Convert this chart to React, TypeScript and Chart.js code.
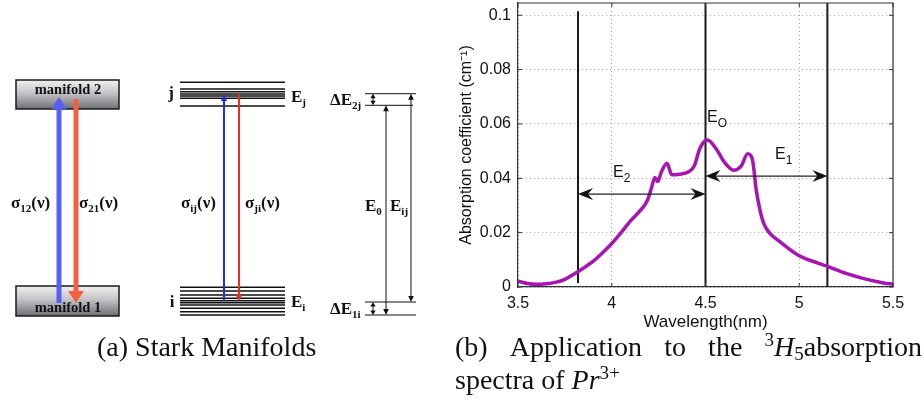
import React, { useEffect, useRef } from "react";
import { Chart, registerables } from "chart.js";

Chart.register(...registerables);

// ---------- Panel (b): absorption spectrum ----------
const wavelengthNm = [
  3.5, 3.55, 3.6, 3.65, 3.7, 3.75, 3.8, 3.85, 3.9, 3.95,
  4.0, 4.05, 4.1, 4.15, 4.19, 4.21, 4.23, 4.245, 4.265, 4.295,
  4.32, 4.36, 4.41, 4.44, 4.47, 4.51, 4.56, 4.6, 4.65, 4.69,
  4.725, 4.75, 4.77, 4.79, 4.81, 4.84, 4.9, 5.0, 5.1, 5.15,
  5.25, 5.35, 5.45, 5.5,
];
const absorptionCoeff = [
  0.0021, 0.0013, 0.001, 0.0012, 0.0017, 0.0028, 0.0048, 0.007, 0.0094, 0.0125,
  0.016, 0.02, 0.0243, 0.028, 0.0318, 0.036, 0.0403, 0.0388, 0.0424, 0.0455,
  0.0413, 0.0415, 0.0424, 0.0445, 0.051, 0.0541, 0.0505, 0.046, 0.043, 0.0445,
  0.049, 0.047, 0.036, 0.0285, 0.0235, 0.02, 0.0165, 0.0115, 0.0088, 0.0076,
  0.005, 0.003, 0.0015, 0.001,
];
const xTickValues = [3.5, 4, 4.5, 5, 5.5];
const yTickValues = [0, 0.02, 0.04, 0.06, 0.08, 0.1];
const boundaryWavelengths = [3.82, 4.5, 5.15];
const boundaryLow = [0.0015, 0, 0];
const boundaryHigh = [0.1015, 0.1045, 0.1045];
const spanStart = [3.82, 4.5];
const spanEnd = [4.5, 5.15];
const spanLevel = [0.0342, 0.0408];
const spanNames = ["2", "1"];

// ---------- Panel (a): Stark manifolds (energy in arbitrary units) ----------
const manifoldLabels = ["manifold 2", "manifold 1"];
const manifoldTop = [260, 54];
const manifoldBottom = [231, 24];
const upperStarkLevels = [257.7, 251, 248.3, 246, 244, 241.7, 234];
const lowerStarkLevels = [52.7, 49, 45, 41.7, 39.3, 37.3, 35, 31.7, 28.3, 25];
const referenceLevels = [246.3, 234.7, 38, 25];

const SERIF = '"Liberation Serif", "Times New Roman", serif';
const SANS = '"Liberation Sans", Arial, sans-serif';

type Part = { t: string; sub?: boolean };

function drawParts(
  ctx: CanvasRenderingContext2D,
  x: number,
  y: number,
  parts: Part[],
  size: number,
  align: "left" | "center",
  family: string,
  bold: boolean,
  subScale = 0.65,
  subDrop = 0.22
) {
  const w8 = bold ? "bold " : "";
  const main = `${w8}${size}px ${family}`;
  const small = `${w8}${Math.round(size * subScale)}px ${family}`;
  let w = 0;
  for (const p of parts) {
    ctx.font = p.sub ? small : main;
    w += ctx.measureText(p.t).width;
  }
  let cx = align === "center" ? x - w / 2 : x;
  ctx.textAlign = "left";
  ctx.textBaseline = "alphabetic";
  for (const p of parts) {
    ctx.font = p.sub ? small : main;
    ctx.fillText(p.t, cx, p.sub ? y + size * subDrop : y);
    cx += ctx.measureText(p.t).width;
  }
}

function head(
  ctx: CanvasRenderingContext2D,
  tx: number,
  ty: number,
  angle: number,
  len: number,
  half: number,
  color: string,
  notch = 0
) {
  const c = Math.cos(angle);
  const s = Math.sin(angle);
  const bx = tx - c * len;
  const by = ty - s * len;
  ctx.beginPath();
  ctx.moveTo(tx, ty);
  ctx.lineTo(bx - s * half, by + c * half);
  ctx.lineTo(tx - c * (len - notch), ty - s * (len - notch));
  ctx.lineTo(bx + s * half, by - c * half);
  ctx.closePath();
  ctx.fillStyle = color;
  ctx.fill();
}

function vArrow(
  ctx: CanvasRenderingContext2D,
  x: number,
  yFrom: number,
  yTo: number,
  color: string,
  width: number,
  len: number,
  half: number,
  both = false
) {
  const dir = yTo > yFrom ? 1 : -1;
  ctx.strokeStyle = color;
  ctx.lineWidth = width;
  ctx.beginPath();
  ctx.moveTo(x, both ? yFrom + dir * (len - 1) : yFrom);
  ctx.lineTo(x, yTo - dir * (len - 1));
  ctx.stroke();
  head(ctx, x, yTo, dir > 0 ? Math.PI / 2 : -Math.PI / 2, len, half, color);
  if (both) head(ctx, x, yFrom, dir > 0 ? -Math.PI / 2 : Math.PI / 2, len, half, color);
}

const diagramPlugin = {
  id: "diagram",
  afterDatasetsDraw(chart: any) {
    const ctx: CanvasRenderingContext2D = chart.ctx;
    const xs = chart.scales.x;
    const ys = chart.scales.y;
    const px = (v: number) => xs.getPixelForValue(v);
    const py = (v: number) => ys.getPixelForValue(v);
    ctx.save();

    // manifold boxes
    manifoldLabels.forEach((label, i) => {
      const x0 = px(16), x1 = px(119);
      const y0 = py(manifoldTop[i]), y1 = py(manifoldBottom[i]);
      const g = ctx.createLinearGradient(0, y0, 0, y1);
      g.addColorStop(0, "#f0f0f0");
      g.addColorStop(0.45, "#c4c4c8");
      g.addColorStop(1, "#6e6e74");
      ctx.fillStyle = g;
      ctx.fillRect(x0, y0, x1 - x0, y1 - y0);
      ctx.strokeStyle = "#1a1a1a";
      ctx.lineWidth = 1.5;
      ctx.strokeRect(x0, y0, x1 - x0, y1 - y0);
    });

    // thick arrows
    const blue = "#5760f2";
    const red = "#f2603f";
    vArrow(ctx, px(59), py(37), py(243), blue, 5, 12, 7.5);
    vArrow(ctx, px(76), py(241), py(37), red, 5, 12, 8);

    // manifold text (over arrows)
    ctx.fillStyle = "#111";
    drawParts(ctx, px(68), py(246), [{ t: manifoldLabels[0] }], 14.5, "center", SERIF, true);
    drawParts(ctx, px(68), py(28), [{ t: manifoldLabels[1] }], 14.5, "center", SERIF, true);

    // thin arrows between Stark levels
    vArrow(ctx, px(224), py(39), py(245), "#1d2fe6", 2, 6, 3.2);
    vArrow(ctx, px(239), py(246), py(39), "#e2321f", 2, 6, 3.2);

    // measurement arrows
    const k = "#111";
    vArrow(ctx, px(411), py(referenceLevels[0]), py(referenceLevels[2]), k, 1, 6, 2.8, true);
    vArrow(ctx, px(386), py(referenceLevels[1]), py(referenceLevels[3]), k, 1, 6, 2.8, true);
    vArrow(ctx, px(373), py(referenceLevels[1]), py(referenceLevels[0]), k, 1, 4.5, 2.6, true);
    vArrow(ctx, px(373), py(referenceLevels[3]), py(referenceLevels[2]), k, 1, 4.5, 2.6, true);

    // labels
    ctx.fillStyle = "#111";
    const S = 17;
    drawParts(ctx, px(11), py(132), [{ t: "σ" }, { t: "12", sub: true }, { t: "(ν)" }], S, "left", SERIF, true);
    drawParts(ctx, px(79), py(132), [{ t: "σ" }, { t: "21", sub: true }, { t: "(ν)" }], S, "left", SERIF, true);
    drawParts(ctx, px(181), py(132), [{ t: "σ" }, { t: "ij", sub: true }, { t: "(ν)" }], S, "left", SERIF, true);
    drawParts(ctx, px(245), py(132), [{ t: "σ" }, { t: "ji", sub: true }, { t: "(ν)" }], S, "left", SERIF, true);
    drawParts(ctx, px(171), py(242), [{ t: "j" }], S, "center", SERIF, true);
    drawParts(ctx, px(172), py(33), [{ t: "i" }], S, "center", SERIF, true);
    drawParts(ctx, px(291), py(238), [{ t: "E" }, { t: "j", sub: true }], S, "left", SERIF, true);
    drawParts(ctx, px(291), py(33), [{ t: "E" }, { t: "i", sub: true }], S, "left", SERIF, true);
    drawParts(ctx, px(330), py(235), [{ t: "ΔE" }, { t: "2j", sub: true }], S, "left", SERIF, true);
    drawParts(ctx, px(330), py(26), [{ t: "ΔE" }, { t: "1i", sub: true }], S, "left", SERIF, true);
    drawParts(ctx, px(365), py(129), [{ t: "E" }, { t: "0", sub: true }], S, "left", SERIF, true);
    drawParts(ctx, px(390), py(129), [{ t: "E" }, { t: "ij", sub: true }], S, "left", SERIF, true);
    ctx.restore();
  },
};

const framePlugin = {
  id: "frame",
  afterDatasetsDraw(chart: any) {
    const ctx: CanvasRenderingContext2D = chart.ctx;
    const { left, right, top, bottom } = chart.chartArea;
    const xs = chart.scales.x;
    const ys = chart.scales.y;
    ctx.save();
    ctx.strokeStyle = "#333";
    ctx.lineWidth = 1.2;
    ctx.beginPath();
    ctx.moveTo(left, top);
    ctx.lineTo(right, top);
    ctx.lineTo(right, bottom);
    ctx.stroke();
    // inward ticks
    ctx.lineWidth = 1;
    ctx.beginPath();
    xTickValues.forEach((v) => {
      const x = xs.getPixelForValue(v);
      ctx.moveTo(x, bottom);
      ctx.lineTo(x, bottom - 4);
      ctx.moveTo(x, top);
      ctx.lineTo(x, top + 4);
    });
    yTickValues.forEach((v) => {
      const y = ys.getPixelForValue(v);
      ctx.moveTo(left, y);
      ctx.lineTo(left + 4, y);
      ctx.moveTo(right, y);
      ctx.lineTo(right - 4, y);
    });
    ctx.stroke();

    // span arrows
    spanStart.forEach((s, i) => {
      const x0 = xs.getPixelForValue(s);
      const x1 = xs.getPixelForValue(spanEnd[i]);
      const y = ys.getPixelForValue(spanLevel[i]);
      ctx.strokeStyle = "#222";
      ctx.lineWidth = 1.3;
      ctx.beginPath();
      ctx.moveTo(x0 + 8, y);
      ctx.lineTo(x1 - 8, y);
      ctx.stroke();
      head(ctx, x0, y, Math.PI, 15, 6, "#111", 5);
      head(ctx, x1, y, 0, 15, 6, "#111", 5);
    });

    // labels
    ctx.fillStyle = "#111";
    drawParts(ctx, xs.getPixelForValue(4.508), ys.getPixelForValue(0.0607), [{ t: "E" }, { t: "O", sub: true }], 16, "left", SANS, false, 0.78, 0.3);
    drawParts(ctx, xs.getPixelForValue(4.007), ys.getPixelForValue(0.0404), [{ t: "E" }, { t: spanNames[0], sub: true }], 16, "left", SANS, false, 0.75, 0.3);
    drawParts(ctx, xs.getPixelForValue(4.871), ys.getPixelForValue(0.047), [{ t: "E" }, { t: spanNames[1], sub: true }], 16, "left", SANS, false, 0.75, 0.3);
    ctx.restore();
  },
};

export default function App() {
  const leftRef = useRef<HTMLCanvasElement>(null);
  const rightRef = useRef<HTMLCanvasElement>(null);

  useEffect(() => {
    document.body.style.margin = "0";

    const levelSets = [
      ...upperStarkLevels.map((e) => ({ x0: 180, x1: 285, e })),
      ...lowerStarkLevels.map((e) => ({ x0: 180, x1: 285, e })),
      ...referenceLevels.map((e, i) => ({ x0: 365, x1: i === 1 ? 413 : 416, e })),
    ];

    const left = new Chart(leftRef.current as HTMLCanvasElement, {
      type: "line",
      data: {
        datasets: levelSets.map((l) => ({
          data: [
            { x: l.x0, y: l.e },
            { x: l.x1, y: l.e },
          ],
          borderColor: "#111",
          borderWidth: l.x0 === 180 ? 1.6 : 1,
          pointRadius: 0,
        })),
      },
      options: {
        animation: false,
        responsive: true,
        maintainAspectRatio: false,
        layout: { padding: 0 },
        plugins: { legend: { display: false }, tooltip: { enabled: false } },
        scales: {
          x: { type: "linear", min: 0, max: 450, display: false },
          y: { type: "linear", min: 0, max: 340, display: false },
        },
      },
      plugins: [diagramPlugin],
    } as any);

    const right = new Chart(rightRef.current as HTMLCanvasElement, {
      type: "line",
      data: {
        datasets: [
          {
            data: wavelengthNm.map((x, i) => ({ x, y: absorptionCoeff[i] })),
            borderColor: "#a814b3",
            borderWidth: 3.5,
            pointRadius: 0,
            cubicInterpolationMode: "monotone",
            order: 0,
          },
          ...boundaryWavelengths.map((x, i) => ({
            data: [
              { x, y: boundaryLow[i] },
              { x, y: boundaryHigh[i] },
            ],
            borderColor: "#1b1b1b",
            borderWidth: 2,
            pointRadius: 0,
            order: 1,
          })),
        ],
      },
      options: {
        animation: false,
        responsive: true,
        maintainAspectRatio: false,
        layout: { padding: { top: 3, right: 31, left: 0, bottom: 0 } },
        plugins: { legend: { display: false }, tooltip: { enabled: false } },
        scales: {
          x: {
            type: "linear",
            min: 3.5,
            max: 5.5,
            afterBuildTicks: (s: any) => {
              s.ticks = xTickValues.map((value) => ({ value }));
            },
            afterFit: (s: any) => {
              s.height = 53;
              s.paddingLeft = 0;
              s.paddingRight = 0;
            },
            ticks: {
              font: { family: SANS, size: 16 },
              color: "#111",
              padding: 7,
              maxRotation: 0,
              autoSkip: false,
              callback: (v: any) => String(v),
            },
            grid: { color: "#a0a0a0", lineWidth: 1, drawTicks: false },
            border: { display: true, color: "#333", width: 1.2, dash: [1, 3] },
            title: {
              display: true,
              text: "Wavelength(nm)",
              font: { family: SANS, size: 17 },
              color: "#111",
              padding: { top: 0, bottom: 7 },
            },
          },
          y: {
            type: "linear",
            min: 0,
            max: 0.1045,
            afterBuildTicks: (s: any) => {
              s.ticks = yTickValues.map((value) => ({ value }));
            },
            afterFit: (s: any) => {
              s.width = 68;
              s.paddingTop = 0;
              s.paddingBottom = 0;
            },
            ticks: {
              font: { family: SANS, size: 16 },
              color: "#111",
              padding: 7,
              autoSkip: false,
              callback: (v: any) => String(+Number(v).toFixed(2)),
            },
            grid: { color: "#a0a0a0", lineWidth: 1, drawTicks: false },
            border: { display: true, color: "#333", width: 1.2, dash: [1, 3] },
            title: {
              display: true,
              text: "Absorption coefficient (cm⁻¹)",
              font: { family: SANS, size: 16 },
              color: "#111",
              padding: { top: 7, bottom: 0 },
            },
          },
        },
      },
      plugins: [framePlugin],
    } as any);

    return () => {
      left.destroy();
      right.destroy();
    };
  }, []);

  const cap: React.CSSProperties = {
    position: "absolute",
    fontFamily: SERIF,
    fontSize: 28,
    lineHeight: "33px",
    color: "#111",
    whiteSpace: "nowrap",
  };
  const sup: React.CSSProperties = { fontSize: "0.68em", verticalAlign: "0.55em", lineHeight: 0 };
  const sub: React.CSSProperties = { fontSize: "0.68em", verticalAlign: "-0.2em", lineHeight: 0 };

  return (
    <div style={{ position: "relative", width: 924, height: 410, background: "#fff", overflow: "hidden" }}>
      <div style={{ position: "absolute", left: 0, top: 0, width: 450, height: 340 }}>
        <canvas ref={leftRef} />
      </div>
      <div style={{ position: "absolute", left: 450, top: 0, width: 474, height: 340 }}>
        <canvas ref={rightRef} />
      </div>
      <div style={{ ...cap, left: 97, top: 330 }}>(a) Stark Manifolds</div>
      <div style={{ ...cap, left: 455, top: 330, width: 467 }}>
        <div style={{ display: "flex", justifyContent: "space-between" }}>
          <span>(b)</span>
          <span>Application</span>
          <span>to</span>
          <span>the</span>
          <span>
            <span style={sup}>3</span>
            <i>H</i>
            <span style={sub}>5</span>absorption
          </span>
        </div>
        <div>
          spectra of <i>Pr</i>
          <span style={sup}>3+</span>
        </div>
      </div>
    </div>
  );
}
